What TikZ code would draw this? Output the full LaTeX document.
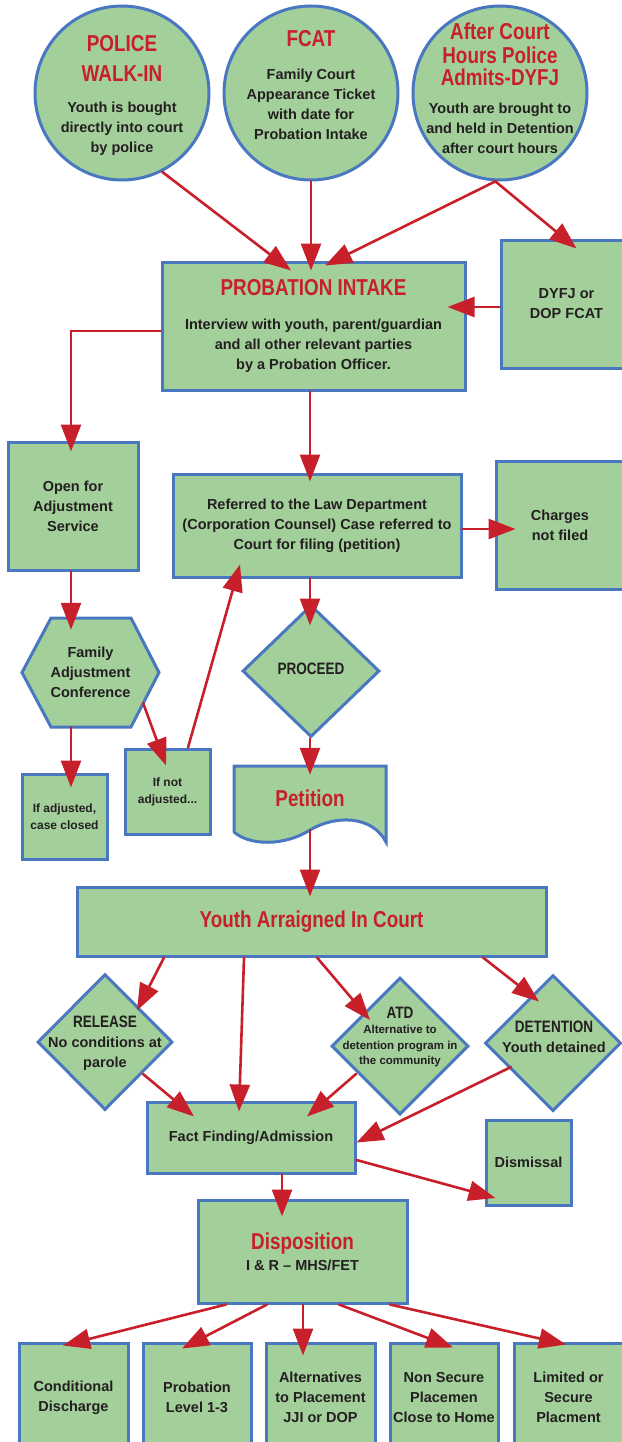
\documentclass[tikz,border=0pt]{standalone}
\usepackage{fontspec}
\setmainfont{Liberation Sans}
\newfontfamily\condfont{Liberation Sans}[FakeStretch=0.82]
\usepackage{tikz}
\usetikzlibrary{arrows.meta}
\usetikzlibrary{shapes.geometric}
\definecolor{cred}{HTML}{C8202B}
\definecolor{cgreen}{HTML}{A3CF9B}
\definecolor{cblue}{HTML}{4A78C0}
\definecolor{ctext}{HTML}{231F20}
\newcommand\bodyfont{\fontsize{14.5}{20}\selectfont\bfseries}
\newcommand\smallfont{\fontsize{11.5}{15.5}\selectfont\bfseries}
\newcommand\notefont{\fontsize{12}{17}\selectfont\bfseries}
\newcommand\ttl[1]{{\condfont\bfseries\fontsize{23}{23}\selectfont\color{cred}#1}}
\newcommand\hd[1]{{\condfont\bfseries\fontsize{16.5}{16.5}\selectfont #1}}
\tikzstyle{box} = [draw=cblue, fill=cgreen, line width=3pt, inner sep=0pt, align=center, font=\bodyfont, text=ctext]
\tikzstyle{bubble} = [box, circle, minimum size=174pt]
\tikzstyle{decision} = [box, diamond]
\tikzstyle{outline} = [draw=cblue, fill=cgreen, line width=3pt]
\tikzstyle{txt} = [inner sep=0pt, align=center, font=\bodyfont, text=ctext]
\tikzstyle{flow} = [-{Triangle[length=27pt,width=20pt]}, draw=cred, line width=2.6pt]

\begin{document}
\begin{tikzpicture}[x=1pt, y=-1pt, line cap=round]
      \useasboundingbox (0,0) rectangle (621,1442);
      % entry points
      \node[bubble] (police) at (122,93) {};
      \node[bubble] (fcat) at (311,93) {};
      \node[bubble] (afterhours) at (500,93) {};
      \node[txt] (policetext) at (122,95.5) {\ttl{POLICE}\\[10pt]\ttl{WALK-IN}\\[11pt]Youth is bought\\directly into court\\by police};
      \node[txt] (fcattext) at (311,85.5) {\ttl{FCAT}\\[13pt]Family Court\\Appearance Ticket\\with date for\\Probation Intake};
      \node[txt] (afterhourstext) at (500,88.5) {\ttl{After Court}\\[3.5pt]\ttl{Hours Police}\\[2.5pt]\ttl{Admits-DYFJ}\\[8pt]Youth are brought to\\and held in Detention\\after court hours};
      % intake
      \node[box, minimum width=303pt, minimum height=128pt] (intake) at (313.5,326) {\ttl{PROBATION INTAKE}\\[14pt]Interview with youth, parent/guardian\\and all other relevant parties\\by a Probation Officer.};
      \node[box, minimum width=131pt, minimum height=128pt] (dyfj) at (566.5,304) {DYFJ or\\DOP FCAT};
      \node[box, minimum width=130pt, minimum height=128pt] (adjust) at (73,506) {Open for\\Adjustment\\Service};
      \node[box, minimum width=288pt, minimum height=103pt] (lawdept) at (317,525.5) {Referred to the Law Department\\(Corporation Counsel) Case referred to\\Court for filing (petition)};
      \node[box, minimum width=128pt, minimum height=128pt] (notfiled) at (560,525) {Charges\\not filed};
      \draw[outline] (22,672.5) -- (51,618) -- (131,618) -- (159,672.5) -- (131,727) -- (51,727) -- cycle;
      \node[txt, minimum width=137pt, minimum height=109pt] (fac) at (90.5,672.5) {Family\\Adjustment\\Conference};
      \node[decision, minimum width=137pt, minimum height=132pt] (proceed) at (311,671) {};
      \node[txt] (proceedtext) at (311,669) {\hd{PROCEED}};
      \node[box, font=\notefont, minimum width=85pt, minimum height=85pt] (adjusted) at (64.5,816.5) {If adjusted,\\case closed};
      \node[box, font=\notefont, minimum width=85pt, minimum height=85pt] (notadjusted) at (167.5,791.5) {If not\\adjusted...};
      \draw[outline] (234,832) -- (234,766) -- (386,766) -- (386,842) .. controls (372,815) and (335,815) .. (310,830) .. controls (285,846) and (250,846) .. (234,832);
      \node[txt, minimum width=152pt, minimum height=64pt] (petition) at (310,798) {\ttl{Petition}};
      % court
      \node[box, minimum width=469pt, minimum height=69pt] (arraigned) at (311.5,921.5) {\ttl{Youth Arraigned In Court}};
      \node[decision, minimum width=135pt, minimum height=136pt] (release) at (105,1042) {};
      \node[decision, minimum width=137pt, minimum height=137pt] (atd) at (400,1046) {};
      \node[decision, minimum width=136pt, minimum height=136pt] (detention) at (553,1043) {};
      \node[txt] (releasetext) at (105,1043) {\hd{RELEASE}\\No conditions at\\parole};
      \node[txt, font=\smallfont] (atdtext) at (400,1037) {\hd{ATD}\\Alternative to\\detention program in\\the community};
      \node[txt] (detentiontext) at (554,1037) {\hd{DETENTION}\\Youth detained};
      \node[box, minimum width=208pt, minimum height=71pt] (factfind) at (251,1137.5) {Fact Finding/Admission};
      \node[box, minimum width=85pt, minimum height=85pt] (dismissal) at (528.5,1162.5) {Dismissal};
      \node[box, minimum width=209pt, minimum height=103pt] (disposition) at (302.5,1251.5) {\ttl{Disposition}\\[1pt]I \& R -- MHS/FET};
      \node[box, minimum width=109pt, minimum height=109pt] (conditional) at (73.5,1397.5) {Conditional\\Discharge};
      \node[box, minimum width=108pt, minimum height=109pt] (probation) at (197,1397.5) {Probation\\Level 1-3};
      \node[box, minimum width=109pt, minimum height=109pt] (alternatives) at (320.5,1397.5) {Alternatives\\to Placement\\JJI or DOP};
      \node[box, minimum width=108pt, minimum height=109pt] (nonsecure) at (444,1397.5) {Non Secure\\Placemen\\Close to Home};
      \node[box, minimum width=109pt, minimum height=109pt] (limited) at (568.5,1397.5) {Limited or\\Secure\\Placment};
      % connectors
      \draw[flow] (police.-63) -- ([xshift=-22.5pt,yshift=-10pt]intake.north);
      \draw[flow] (fcat.south) -- ([xshift=-2.5pt,yshift=-10pt]intake.north);
      \draw[flow] (afterhours.-93) -- ([xshift=11.5pt,yshift=-5pt]intake.north);
      \draw[flow] (afterhours.-93) -- ([xshift=77pt,yshift=-10pt]dyfj.north west);
      \draw[flow] ([yshift=-3pt]dyfj.west) -- ([xshift=-19pt,yshift=19pt]intake.east);
      \draw[flow] ([yshift=-5pt]intake.west) -| ([xshift=-2pt,yshift=-11pt]adjust.north);
      \draw[flow] ([xshift=-3.5pt]intake.south) -- ([xshift=-7pt,yshift=-9pt]lawdept.north);
      \draw[flow] ([yshift=-3.5pt]lawdept.east) -- ([xshift=21pt,yshift=-4pt]notfiled.west);
      \draw[flow] ([xshift=-7pt]lawdept.south) -- ([xshift=-1pt,yshift=-22pt]proceed.north);
      \draw[flow] ([xshift=-2pt]adjust.south) -- ([xshift=-19.5pt,yshift=-12pt]fac.north);
      \draw[flow] ([xshift=-19.5pt]fac.south) -- ([xshift=6.5pt,yshift=-15pt]adjusted.north);
      \draw[flow] ([xshift=-16pt,yshift=24pt]fac.south east) -- ([xshift=-1.5pt,yshift=-18pt]notadjusted.north);
      \draw[flow] ([xshift=20.5pt]notadjusted.north) -- ([xshift=-77pt,yshift=14pt]lawdept.south);
      \draw[flow] ([xshift=-1pt]proceed.south) -- ([yshift=-9pt]petition.north);
      \draw[flow] (petition.south) -- ([xshift=-1.5pt,yshift=-11pt]arraigned.north);
      \draw[flow] ([xshift=-147.5pt]arraigned.south) -- ([xshift=32pt,yshift=-38pt]release.north);
      \draw[flow] ([xshift=-67.5pt]arraigned.south) -- ([xshift=-12pt,yshift=-11pt]factfind.north);
      \draw[flow] ([xshift=5.5pt]arraigned.south) -- ([xshift=-30pt,yshift=-44pt]atd.north);
      \draw[flow] ([xshift=171.5pt]arraigned.south) -- ([xshift=-14pt,yshift=-28pt]detention.north);
      \draw[flow] ([xshift=38pt,yshift=-32pt]release.center) -- ([xshift=-57pt,yshift=-16pt]factfind.north);
      \draw[flow] ([xshift=-44pt,yshift=-28pt]atd.center) -- ([xshift=56pt,yshift=-16pt]factfind.north);
      \draw[flow] ([xshift=-42pt,yshift=-24pt]detention.center) -- ([yshift=-5pt]factfind.east);
      \draw[flow] ([yshift=-22.5pt]factfind.east) -- ([xshift=11pt,yshift=-35.5pt]dismissal.west);
      \draw[flow] ([xshift=31pt]factfind.south) -- ([xshift=-20.5pt,yshift=-18pt]disposition.north);
      \draw[flow] ([xshift=-76.5pt]disposition.south) -- ([xshift=-10.5pt,yshift=-4pt]conditional.north);
      \draw[flow] ([xshift=-35.5pt]disposition.south) -- ([xshift=-15pt,yshift=-7pt]probation.north);
      \draw[flow] ([xshift=0.5pt]disposition.south) -- ([xshift=-17.5pt,yshift=-14pt]alternatives.north);
      \draw[flow] ([xshift=36.5pt]disposition.south) -- ([xshift=9pt,yshift=-6pt]nonsecure.north);
      \draw[flow] ([xshift=87.5pt]disposition.south) -- ([xshift=-2.5pt,yshift=-3pt]limited.north);
\end{tikzpicture}
\end{document}
